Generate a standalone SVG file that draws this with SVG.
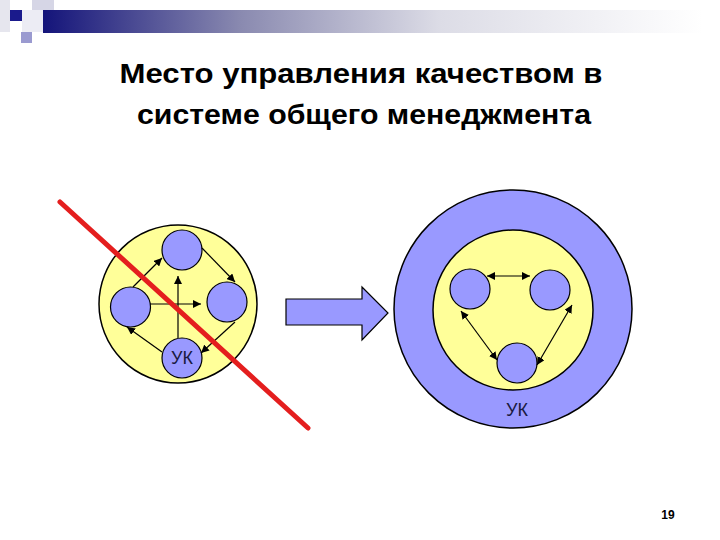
<svg xmlns="http://www.w3.org/2000/svg" width="720" height="540" viewBox="0 0 720 540">
  <defs>
    <linearGradient id="bar" x1="0" y1="0" x2="1" y2="0">
      <stop offset="0" stop-color="#14147a"/>
      <stop offset="0.3" stop-color="#8a8ab0"/>
      <stop offset="0.6" stop-color="#dcdce6"/>
      <stop offset="1" stop-color="#ffffff"/>
    </linearGradient>
    <marker id="ah" viewBox="0 0 10 10" refX="10" refY="5" markerWidth="8" markerHeight="8" markerUnits="userSpaceOnUse" orient="auto-start-reverse">
      <path d="M0,0 L10,5 L0,10 z" fill="#000"/>
    </marker>
  </defs>
  <style>
    .big { fill: #ffff99; stroke: #000; stroke-width: 1.5; }
    .ring { fill: #9999ff; stroke: #000; stroke-width: 1.5; }
    .node { fill: #9999ff; stroke: #000; stroke-width: 1.2; }
    .conn { stroke: #000; stroke-width: 1.2; fill: none; }
    .title { font-family: "Liberation Sans", Arial, sans-serif; font-weight: bold; font-size: 28px; fill: #000; text-anchor: middle; }
    .lbl { font-family: "Liberation Sans", Arial, sans-serif; font-size: 18px; fill: #1a1a40; text-anchor: middle; }
  </style>
  <rect width="720" height="540" fill="#ffffff"/>
  <!-- header decoration -->
  <g id="header">
    <rect x="0" y="0" width="10" height="32" fill="#e6e6ee"/>
    <rect x="32" y="0" width="22" height="22" fill="#d6d6e6"/>
    <rect x="22" y="10" width="21" height="22" fill="#ececf4"/>
    <rect x="43" y="10" width="660" height="23" fill="url(#bar)"/>
    <rect x="10" y="10" width="12" height="11" fill="#1a1a8c"/>
    <rect x="21" y="32" width="11" height="11" fill="#9a9ad0"/>
  </g>
  <g id="title">
    <text class="title" x="361" y="83" textLength="483" lengthAdjust="spacingAndGlyphs">Место управления качеством в</text>
    <text class="title" x="364" y="124" textLength="454" lengthAdjust="spacingAndGlyphs">системе общего менеджмента</text>
  </g>
  <!-- left diagram -->
  <g id="left-outer"><circle class="big" cx="178" cy="304" r="79"/></g>
  <g id="left-top"><circle class="node" cx="182" cy="250" r="20"/></g>
  <g id="left-left"><circle class="node" cx="130.5" cy="307" r="20"/></g>
  <g id="left-right"><circle class="node" cx="227" cy="302" r="20"/></g>
  <g id="left-uk"><circle class="node" cx="182" cy="358" r="20"/><text class="lbl" x="182" y="364">УК</text></g>
  <!-- right diagram -->
  <g id="right-outer"><circle class="ring" cx="513" cy="309" r="119"/><text class="lbl" x="517" y="416">УК</text></g>
  <g id="right-inner"><circle class="big" cx="513" cy="310" r="80"/></g>
  <g id="right-left"><circle class="node" cx="470" cy="289" r="20"/></g>
  <g id="right-right"><circle class="node" cx="550" cy="290" r="20"/></g>
  <g id="right-bottom"><circle class="node" cx="517" cy="363" r="20"/></g>
  <g id="connectors">
    <line class="conn" x1="133" y1="287" x2="162" y2="258" marker-end="url(#ah)"/>
    <line class="conn" x1="202" y1="248" x2="235" y2="282" marker-end="url(#ah)"/>
    <line class="conn" x1="235" y1="322" x2="201" y2="353" marker-end="url(#ah)"/>
    <line class="conn" x1="162" y1="352" x2="127" y2="327" marker-end="url(#ah)"/>
    <line class="conn" x1="178" y1="338" x2="178" y2="276" marker-end="url(#ah)"/>
    <line class="conn" x1="150" y1="304" x2="201" y2="304" marker-end="url(#ah)"/>
    <line class="conn" x1="487" y1="276" x2="530" y2="276" marker-start="url(#ah)" marker-end="url(#ah)"/>
    <line class="conn" x1="461" y1="311" x2="497" y2="360" marker-start="url(#ah)" marker-end="url(#ah)"/>
    <line class="conn" x1="572" y1="305" x2="537" y2="365" marker-start="url(#ah)" marker-end="url(#ah)"/>
  </g>
  <g id="block-arrow">
    <path d="M286,299 L362,299 L362,287 L388,313 L362,340 L362,325 L286,325 z" fill="#9999ff" stroke="#000" stroke-width="1.2"/>
  </g>
  <g id="strike">
    <line x1="60" y1="202" x2="308" y2="428" stroke="#e41e1e" stroke-width="5" stroke-linecap="round"/>
  </g>
  <g id="page-number">
    <text x="668" y="519" font-family="'Liberation Sans', Arial, sans-serif" font-weight="bold" font-size="12" text-anchor="middle" fill="#000">19</text>
  </g>
</svg>
